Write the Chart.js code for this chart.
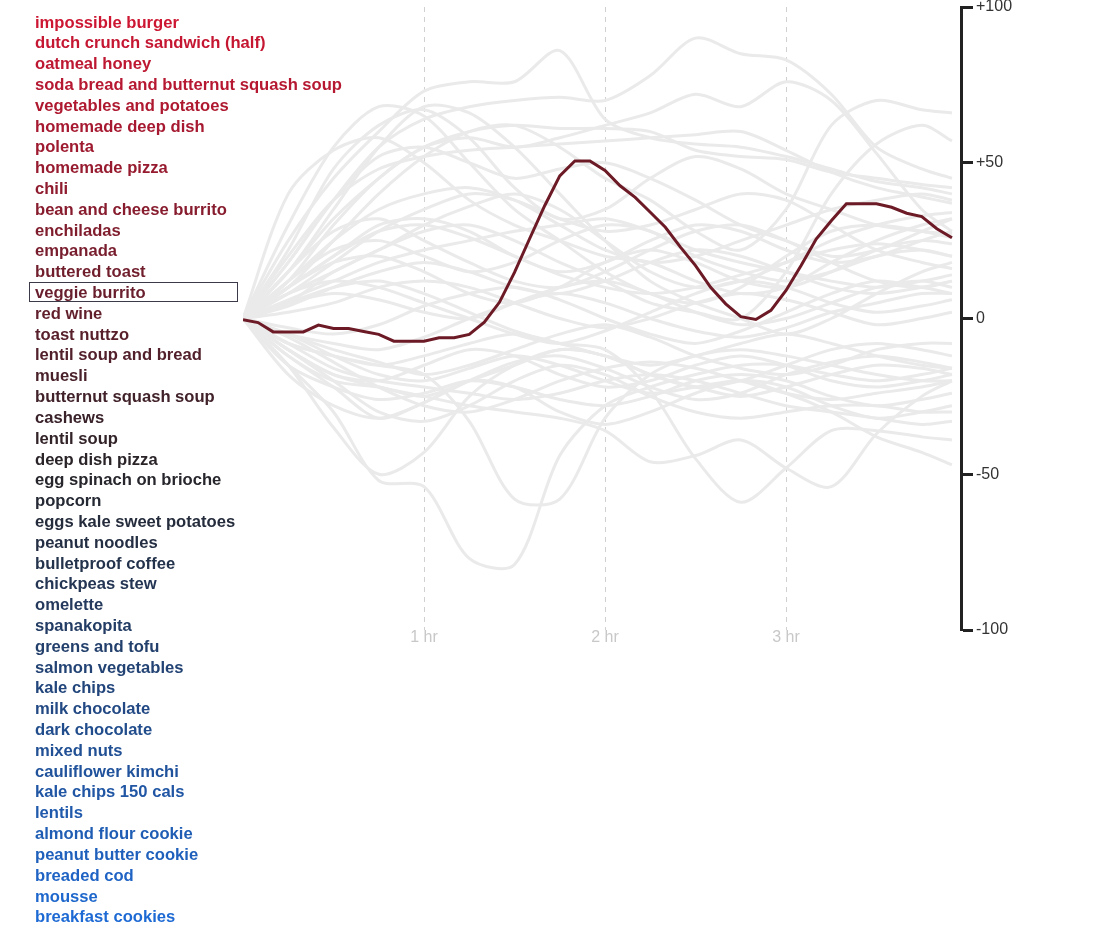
<!DOCTYPE html>
<html>
<head>
<meta charset="utf-8">
<script src="https://cdn.jsdelivr.net/npm/chart.js@4.4.1/dist/chart.umd.min.js"></script>
<style>
  html, body { margin: 0; padding: 0; background: #fff; }
  #wrap { position: relative; width: 1094px; height: 945px; overflow: hidden; }
  #chart { position: absolute; left: 0; top: 0; }
  .food { position: absolute; left: 35px; font-family: "Liberation Sans", Arial, sans-serif; font-weight: bold; font-size: 16.6px; white-space: nowrap; line-height: 20px; z-index: 2; }
  #selbox { position: absolute; left: 29px; top: 283px; width: 207px; height: 18px; border: 1px solid #3a3a48; z-index: 1; }
</style>
</head>
<body>
<div id="wrap">
  <canvas id="chart" width="1094" height="945"></canvas>
  <div id="selbox"></div>
  <div id="legend"></div>
</div>
<script>
// ---------- DATA ----------
const foods = [
  "impossible burger", "dutch crunch sandwich (half)", "oatmeal honey",
  "soda bread and butternut squash soup", "vegetables and potatoes", "homemade deep dish",
  "polenta", "homemade pizza", "chili", "bean and cheese burrito", "enchiladas", "empanada",
  "buttered toast", "veggie burrito", "red wine", "toast nuttzo", "lentil soup and bread",
  "muesli", "butternut squash soup", "cashews", "lentil soup", "deep dish pizza",
  "egg spinach on brioche", "popcorn", "eggs kale sweet potatoes", "peanut noodles",
  "bulletproof coffee", "chickpeas stew", "omelette", "spanakopita", "greens and tofu",
  "salmon vegetables", "kale chips", "milk chocolate", "dark chocolate", "mixed nuts",
  "cauliflower kimchi", "kale chips 150 cals", "lentils", "almond flour cookie",
  "peanut butter cookie", "breaded cod", "mousse", "breakfast cookies"
];
const selectedFood = "veggie burrito";

// minutes after eating (key readings for background lines)
const keyMinutes = [0, 15, 30, 45, 60, 75, 90, 105, 120, 135, 150, 165, 180, 195, 210, 225, 235];

// minutes for the highlighted series
const selectedMinutes = [0, 5, 10, 15, 20, 25, 30, 35, 40, 45, 50, 55, 60, 65, 70, 75, 80, 85, 90, 95,
  100, 105, 110, 115, 120, 125, 130, 135, 140, 145, 150, 155, 160, 165, 170, 175, 180, 185, 190, 195,
  200, 205, 210, 215, 220, 225, 230, 235];
const veggieBurrito = [-0.4, -1.3, -4.3, -4.3, -4.3, -2.1, -3.2, -3.2, -4.2, -5.1, -7.3, -7.3, -7.3, -6.2,
  -6.2, -5.1, -1.2, 5.2, 14.8, 25.6, 36.2, 45.8, 50.6, 50.6, 47.5, 42.6, 38.9, 34.1, 29.3, 22.9, 17,
  10, 4.7, 0.6, -0.3, 2.6, 9, 17, 25.5, 31.4, 36.8, 36.8, 36.8, 35.7, 33.8, 32.7, 28.8, 25.9];

// background series (values at keyMinutes)
const impossibleBurger     = [0, 25, 45, 60, 73, 76, 76, 86, 64, 58, 56, 55, 52, 48, 44, 42, 40];
const dutchCrunch          = [0, 18, 38, 55, 64, 68, 70, 71, 70, 78, 90, 85, 83, 72, 55, 48, 45];
const oatmealHoney         = [0, 15, 32, 45, 55, 58, 55, 58, 62, 66, 72, 68, 76, 70, 53, 35, 28];
const sodaBreadSoup        = [0, 40, 54, 58, 50, 38, 30, 25, 20, 18, 12, 8, 10, 18, 25, 30, 32];
const vegetablesPotatoes   = [0, 10, 25, 40, 52, 60, 62, 55, 45, 38, 28, 22, 35, 62, 70, 67, 66];
const homemadeDeepDish     = [0, 8, 15, 22, 28, 30, 25, 18, 12, 5, 2, 0, 15, 40, 56, 62, 57];
const polenta              = [0, 30, 55, 68, 65, 50, 35, 25, 15, 8, 5, 10, 20, 28, 30, 28, 26];
const homemadePizza        = [0, 22, 48, 62, 67, 58, 42, 32, 35, 45, 52, 48, 40, 35, 30, 28, 27];
const chili                = [0, 15, 35, 55, 68, 66, 55, 40, 25, 12, 5, 0, -5, 0, 8, 15, 18];
const beanCheeseBurrito    = [0, 18, 38, 52, 55, 50, 45, 48, 50, 45, 38, 30, 25, 20, 22, 28, 32];
const enchiladas           = [0, 20, 38, 48, 52, 54, 55, 56, 57, 58, 59, 60, 54, 47, 42, 39, 37];
const empanada             = [0, 12, 30, 45, 55, 60, 62, 61, 61, 60, 54, 52, 51, 47, 45, 43, 42];
const butteredToast        = [0, 12, 25, 35, 40, 42, 38, 30, 22, 18, 20, 25, 30, 35, 38, 40, 38];
const redWine              = [0, 8, 18, 28, 35, 40, 38, 32, 28, 30, 35, 40, 38, 30, 22, 18, 16];
const toastNuttzo          = [0, 10, 20, 30, 32, 28, 20, 15, 18, 25, 30, 28, 22, 18, 20, 25, 28];
const lentilSoupBread      = [0, 5, 15, 22, 30, 36, 40, 35, 25, 15, 10, 12, 18, 25, 30, 33, 34];
const muesli               = [0, 12, 22, 25, 20, 15, 18, 25, 30, 28, 20, 15, 12, 15, 20, 22, 20];
const butternutSquashSoup  = [0, 6, 12, 18, 22, 25, 28, 30, 32, 28, 22, 18, 15, 12, 10, 12, 14];
const cashews              = [0, 15, 28, 32, 25, 18, 12, 10, 15, 22, 28, 30, 25, 18, 12, 10, 12];
const lentilSoup           = [0, 4, 10, 15, 18, 15, 10, 8, 12, 18, 22, 20, 15, 10, 8, 10, 12];
const deepDishPizza        = [0, 10, 18, 20, 15, 8, 5, 10, 18, 22, 18, 12, 10, 15, 22, 25, 24];
const eggSpinachBrioche    = [0, 5, 8, 6, 2, 0, 5, 10, 12, 8, 2, -2, 0, 5, 10, 12, 10];
const popcorn              = [0, -3, -5, -2, 4, 8, 10, 6, 0, -5, -8, -4, 2, 8, 12, 10, 8];
const eggsKaleSweetPotato  = [0, 8, 12, 10, 5, 0, -5, -8, -4, 2, 8, 12, 10, 5, 2, 4, 6];
const peanutNoodles        = [0, 2, 5, 10, 12, 10, 5, 0, -3, 0, 5, 8, 6, 2, -2, 0, 2];
const bulletproofCoffee    = [0, -5, -8, -10, -6, 0, 5, 8, 5, 0, -4, -6, -3, 2, 5, 8, 8];
const chickpeasStew        = [0, -8, -12, -15, -12, -8, -5, -8, -12, -15, -12, -8, -5, -8, -12, -15, -16];
const omelette             = [0, -5, -10, -14, -18, -15, -10, -5, -2, -6, -12, -16, -18, -15, -10, -8, -8];
const spanakopita          = [0, -10, -18, -20, -15, -10, -12, -18, -22, -20, -15, -12, -15, -20, -22, -20, -18];
const greensTofu           = [0, -12, -20, -22, -25, -20, -15, -10, -12, -18, -22, -25, -22, -18, -15, -16, -18];
const salmonVegetables     = [0, -6, -14, -22, -28, -30, -26, -20, -16, -14, -16, -20, -24, -26, -24, -22, -20];
const kaleChips            = [0, -15, -22, -26, -24, -20, -22, -26, -28, -25, -20, -18, -20, -25, -28, -26, -24];
const milkChocolate        = [0, -18, -28, -32, -27, -20, -14, -12, -16, -22, -26, -24, -18, -14, -12, -14, -16];
const darkChocolate        = [0, -10, -20, -30, -33, -28, -20, -15, -18, -25, -30, -32, -30, -28, -28, -30, -30];
const mixedNuts            = [0, -15, -30, -52, -54, -77, -79, -44, -28, -22, -18, -15, -15, -18, -20, -18, -16];
const cauliflowerKimchi    = [0, -15, -35, -50, -43, -25, -15, -10, -12, -18, -22, -20, -15, -10, -8, -10, -12];
const kaleChips150         = [0, -8, -12, -15, -18, -33, -58, -58, -32, -18, -12, -10, -12, -15, -18, -20, -20];
const lentils              = [0, -10, -18, -22, -25, -28, -30, -32, -36, -46, -44, -39, -48, -54, -37, -25, -20];
const almondFlourCookie    = [0, 5, 10, 12, 8, 2, -4, -8, -10, -23, -45, -59, -48, -36, -36, -38, -39];
const peanutButterCookie   = [0, -5, -12, -18, -20, -16, -12, -15, -20, -24, -22, -20, -24, -30, -38, -43, -47];
const breadedCod           = [0, -12, -22, -32, -27, -20, -22, -30, -34, -30, -24, -20, -22, -28, -32, -30, -28];
const mousse               = [0, -8, -16, -20, -22, -24, -26, -24, -20, -18, -20, -24, -28, -30, -32, -34, -33];
const breakfastCookies     = [0, 10, 20, 28, 30, 26, 20, 14, 10, 8, 10, 14, 18, 22, 24, 22, 20];

const backgroundSeries = [
  impossibleBurger, dutchCrunch, oatmealHoney, sodaBreadSoup, vegetablesPotatoes, homemadeDeepDish,
  polenta, homemadePizza, chili, beanCheeseBurrito, enchiladas, empanada, butteredToast,
  redWine, toastNuttzo, lentilSoupBread, muesli, butternutSquashSoup, cashews, lentilSoup,
  deepDishPizza, eggSpinachBrioche, popcorn, eggsKaleSweetPotato, peanutNoodles, bulletproofCoffee,
  chickpeasStew, omelette, spanakopita, greensTofu, salmonVegetables, kaleChips, milkChocolate,
  darkChocolate, mixedNuts, cauliflowerKimchi, kaleChips150, lentils, almondFlourCookie,
  peanutButterCookie, breadedCod, mousse, breakfastCookies
];

const xTickMinutes = [60, 120, 180];
const xTickLabels = ["1 hr", "2 hr", "3 hr"];
const yTickValues = [-100, -50, 0, 50, 100];
const yTickLabels = ["-100", "-50", "0", "+50", "+100"];

// ---------- LEGEND (HTML text) ----------
function foodColor(i, n) {
  const t = i / (n - 1);
  const a = [205, 22, 50], m = [38, 36, 40], b = [30, 106, 212];
  let c;
  if (t < 0.5) { const f = t / 0.5; c = a.map((v, k) => Math.round(v + (m[k] - v) * f)); }
  else { const f = (t - 0.5) / 0.5; c = m.map((v, k) => Math.round(v + (b[k] - v) * f)); }
  return `rgb(${c[0]},${c[1]},${c[2]})`;
}
const legend = document.getElementById('legend');
foods.forEach((name, i) => {
  const d = document.createElement('div');
  d.className = 'food';
  d.textContent = name;
  d.style.top = (12.5 + i * 20.81) + 'px';
  d.style.color = foodColor(i, foods.length);
  legend.appendChild(d);
});
const selIdx = foods.indexOf(selectedFood);
document.getElementById('selbox').style.top = (12.5 + selIdx * 20.81 - 1) + 'px';

// ---------- CHART ----------
const datasets = backgroundSeries.map(vals => ({
  data: keyMinutes.map((m, k) => ({ x: m, y: vals[k] })),
  borderColor: '#eaeaea',
  borderWidth: 3,
  pointRadius: 0,
  tension: 0.3,
  order: 1
}));
datasets.push({
  data: selectedMinutes.map((m, k) => ({ x: m, y: veggieBurrito[k] })),
  borderColor: '#6c1a25',
  borderWidth: 3,
  pointRadius: 0,
  tension: 0,
  order: 0
});

new Chart(document.getElementById('chart'), {
  type: 'line',
  data: { datasets },
  options: {
    responsive: false,
    animation: false,
    devicePixelRatio: 1,
    layout: { padding: { left: 243, right: 63, top: 7, bottom: 295 } },
    plugins: { legend: { display: false }, tooltip: { enabled: false } },
    scales: {
      x: {
        type: 'linear', min: 0, max: 238,
        afterBuildTicks: s => { s.ticks = xTickMinutes.map(v => ({ value: v })); },
        afterFit: s => { s.height = 20; s.paddingLeft = 0; s.paddingRight = 0; },
        ticks: {
          padding: -2, color: '#c8c8c8', maxRotation: 0, autoSkip: false,
          font: { family: 'Liberation Sans, Arial, sans-serif', size: 16 },
          callback: v => xTickLabels[xTickMinutes.indexOf(v)]
        },
        grid: { color: '#d0d0d0', lineWidth: 1, drawTicks: false },
        border: { display: false, dash: [5, 5] }
      },
      y: {
        type: 'linear', position: 'right', min: -100, max: 100,
        afterBuildTicks: s => { s.ticks = yTickValues.map(v => ({ value: v })); },
        afterFit: s => { s.width = 70; s.paddingTop = 0; s.paddingBottom = 0; },
        ticks: {
          padding: 3, color: '#333',
          font: { family: 'Liberation Sans, Arial, sans-serif', size: 16 },
          callback: v => yTickLabels[yTickValues.indexOf(v)]
        },
        grid: { drawOnChartArea: false, tickLength: 12, tickWidth: 3, tickColor: '#222' },
        border: { display: true, color: '#222', width: 3 }
      }
    }
  }
});
</script>
</body>
</html>
